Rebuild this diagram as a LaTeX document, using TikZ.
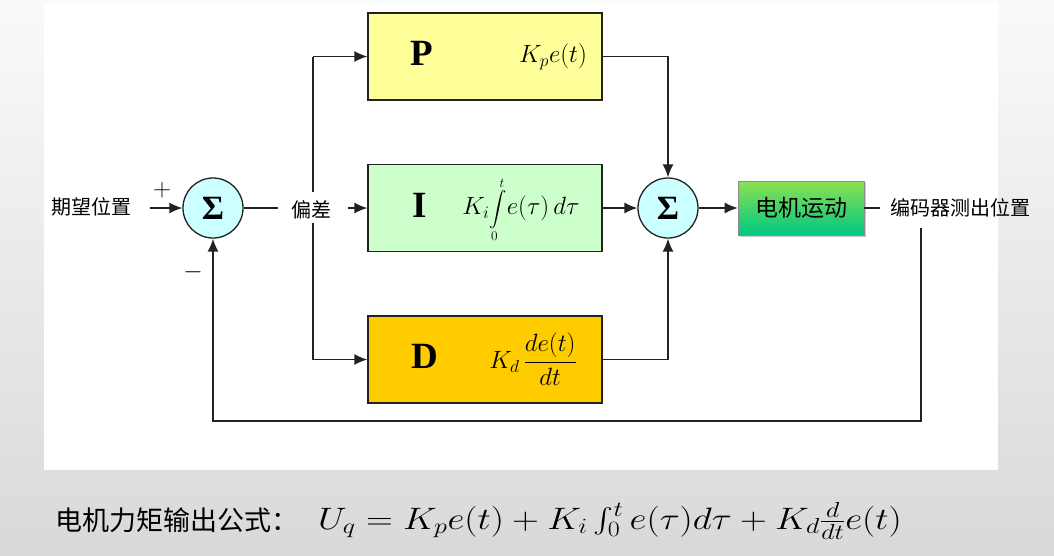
\RequirePackage{fix-cm}
\documentclass[tikz,border=0pt]{standalone}
\usepackage{exscale}
\usepackage{fontspec}
\setmainfont{Liberation Serif}
\newfontfamily\cjk{Noto Sans CJK SC}
\usetikzlibrary{arrows.meta, shadows}
\definecolor{pcol}{HTML}{FFFF99}
\definecolor{icol}{HTML}{CCFFCC}
\definecolor{dcol}{HTML}{FFCC00}
\definecolor{scol}{HTML}{CCFFFF}
\definecolor{wcol}{HTML}{222222}
\definecolor{mtop}{HTML}{8CE050}
\definecolor{mbot}{HTML}{00C882}
\tikzset{ blk/.style = { rectangle
                       , draw         = wcol
                       , line width   = 1.3pt
                       , minimum width  = 234pt
                       , minimum height = 87pt
                       , inner sep    = 0pt
                       },
          sum/.style = { circle
                       , draw         = wcol
                       , line width   = 1.3pt
                       , fill         = scol
                       , minimum size = 60pt
                       , inner sep    = 0pt
                       , font = \fontsize{34}{36}\selectfont\bfseries
                       },
          lbl/.style = { inner sep = 0pt
                       , font = \cjk\fontsize{20}{24}\selectfont
                       },
          big/.style = { inner sep = 0pt
                       , font = \fontsize{37}{40}\selectfont\bfseries
                       },
          fml/.style = { inner sep = 0pt
                       , font = \fontsize{25}{28}\selectfont
                       },
          motor/.style = { rectangle
                         , draw         = black!45
                         , line width   = 0.6pt
                         , top color    = mtop
                         , bottom color = mbot
                         , minimum width  = 126pt
                         , minimum height = 54pt
                         , drop shadow={shadow xshift=1.5pt,shadow yshift=-1.5pt,opacity=0.4}
                         , font = \cjk\fontsize{23}{26}\selectfont
                         },
          wire/.style = { line width = 1.4pt, draw = wcol },
          arr/.style  = { wire, -{Latex[length=13pt, width=11pt]} }
        }
\begin{document}
\begin{tikzpicture}[x=1pt, y=-1pt]
      \useasboundingbox (0,0) rectangle (1054,555);
      \shade[top color=black!2, bottom color=black!15] (0,0) rectangle (1054,555);
      \fill[white] (44,3) rectangle (998,470);

      \node[sum] (s1) at (213,208) {Σ};
      \node[sum] (s2) at (668,208) {Σ};

      \node[blk, fill=pcol] (P) at (485,56.5) {};
      \node[blk, fill=icol] (I) at (485,208) {};
      \node[blk, fill=dcol] (D) at (485,359.5) {};
      \node[big] (Pl) at (422,53)  {P};
      \node[big] (Il) at (420,205) {I};
      \node[big] (Dl) at (425,356) {D};
      \node[fml] (Pf) at (553,57)  {$K_p e(t)$};
      \node[fml] (If) at (521,210)
           {$K_i\mbox{\fontsize{19}{22}\selectfont$\displaystyle\int\limits_0^t$}e(\tau)\,d\tau$};
      \node[fml] (Df) at (533,359) {$K_d\,\displaystyle\frac{de(t)}{dt}$};

      \node[motor] (M) at (801,208) {电机运动};

      \node[lbl] (in)  at (91,207)  {期望位置};
      \node[lbl] (err) at (311,210) {偏差};
      \node[lbl] (out) at (960,208) {编码器测出位置};
      \node[fml] (plus)  at (162,190) {$+$};
      \node[fml] (minus) at (193,272) {$-$};

      \coordinate (ia) at (150,208);
      \coordinate (el) at (278,208);
      \coordinate (er) at (348,208);
      \coordinate (bt) at (313,56.5);
      \coordinate (bb) at (313,359.5);
      \coordinate (gt) at (313,192);
      \coordinate (gb) at (313,223);
      \coordinate (fo) at (921,228);
      \coordinate (fb) at (921,421);

      \draw[arr] (ia) -- (s1.west);
      \draw[wire] (s1.east) -- (el);
      \draw[arr] (er) -- (I.west);
      \draw[wire] (gt) -- (bt)  (gb) -- (bb);
      \draw[arr] (bt) -- (P.west);
      \draw[arr] (bb) -- (D.west);
      \draw[arr] (P.east) -| (s2.north);
      \draw[arr] (I.east) -- (s2.west);
      \draw[arr] (D.east) -| (s2.south);
      \draw[arr] (s2.east) -- (M.west);
      \draw[wire] (M.east) -- ([xshift=-10pt]out.west);
      \draw[arr] (fo) -- (fb) -| (s1.south);

      \node[anchor=west, inner sep=0pt, font=\cjk\fontsize{27}{30}\selectfont] (eqt) at (55,520)
           {电机力矩输出公式：};
      \node[anchor=west, inner sep=0pt, font=\fontsize{31}{34}\selectfont] (eq) at (318,521)
           {\scalebox{1.2}[1]{$U_q = K_p e(t) + K_i\int_0^t e(\tau)d\tau + K_d\frac{d}{dt}e(t)$}};
    \end{tikzpicture}
\end{document}
